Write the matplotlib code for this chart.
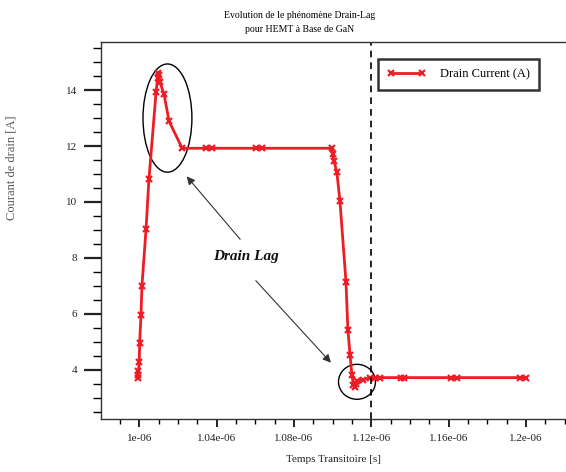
import numpy as np
import matplotlib
matplotlib.use('Agg')
import matplotlib.pyplot as plt
from matplotlib.patches import Ellipse
from matplotlib.ticker import MultipleLocator

# transient drain current (time in microseconds, current in A)
t_us = [0.9993, 0.9994, 0.9996, 1.0000, 1.0002, 1.0009, 1.0014, 1.0035, 1.0050,
        1.0087, 1.0095, 1.0098, 1.0102, 1.0106, 1.0128, 1.0154, 1.0222,
        1.0345, 1.0376, 1.0603, 1.0634, 1.0996,
        1.1001, 1.1007, 1.1022, 1.1038, 1.1069, 1.1079, 1.1090, 1.1100,
        1.1108, 1.1114, 1.1120, 1.1128, 1.1157, 1.1193, 1.1220, 1.1245,
        1.1353, 1.1369, 1.1612, 1.1643, 1.1970, 1.2000]
i_drain = [3.70, 3.80, 3.95, 4.29, 4.97, 5.97, 7.01, 9.02, 10.81,
           13.93, 14.45, 14.60, 14.55, 14.30, 13.86, 12.89, 11.92,
           11.92, 11.92, 11.92, 11.92, 11.92,
           11.71, 11.46, 11.06, 10.02, 7.15, 5.43, 4.54, 3.80,
           3.45, 3.40, 3.50, 3.60, 3.64, 3.71, 3.72, 3.72,
           3.72, 3.72, 3.72, 3.72, 3.72, 3.72]

xtick_vals = [1.0e-6, 1.04e-6, 1.08e-6, 1.12e-6, 1.16e-6, 1.2e-6]
xtick_labels = ['1e-06', '1.04e-06', '1.08e-06', '1.12e-06', '1.16e-06', '1.2e-06']
ytick_vals = [4, 6, 8, 10, 12, 14]

t_marker = 1.12e-6

def main():
    plt.rcParams['font.family'] = ['Liberation Serif', 'DejaVu Serif']

    fig = plt.figure(figsize=(5.66, 4.72), dpi=100)
    ax = fig.add_axes([0.1784, 0.1123, 0.8216, 0.7987])

    t = np.array(t_us) * 1e-6
    ax.plot(t, i_drain, color='#ee1c25', lw=2.0, marker='x', ms=5, mew=1.6,
            label='Drain Current (A)')

    ax.axvline(t_marker, color='black', lw=1.2, ls=(0, (4, 3)))

    ax.set_xlim(0.9802e-6, 1.2207e-6)
    ax.set_ylim(2.24, 15.72)

    ax.set_xticks(xtick_vals)
    ax.set_xticklabels(xtick_labels)
    ax.xaxis.set_minor_locator(MultipleLocator(0.01e-6))
    ax.set_yticks(ytick_vals)
    ax.yaxis.set_minor_locator(MultipleLocator(0.5))

    ax.tick_params(axis='both', which='major', direction='out', labelsize=8,
                   colors='#222222')
    ax.tick_params(axis='y', which='major', length=12, width=1.6, pad=5)
    ax.tick_params(axis='y', which='minor', length=6, width=1.0)
    ax.tick_params(axis='x', which='major', length=6, width=1.4, pad=5)
    ax.tick_params(axis='x', which='minor', length=3.5, width=1.0)

    for side in ['left', 'bottom', 'top']:
        ax.spines[side].set_color('#333333')
        ax.spines[side].set_linewidth(1.0)
    ax.spines['right'].set_visible(False)

    # highlighted regions and the annotation pointing at them
    ax.add_patch(Ellipse((1.01458e-6, 13.0), 0.0253e-6, 3.87, fill=False,
                         ec='black', lw=1.0))
    ax.add_patch(Ellipse((1.1126e-6, 3.57), 0.0191e-6, 1.25, fill=False,
                         ec='black', lw=1.0))
    ax.text(1.0553e-6, 8.05, 'Drain Lag', ha='center', va='center',
            fontsize=11, fontweight='bold', style='italic', color='#111111')
    ax.annotate('', xy=(1.0236e-6, 10.99), xytext=(1.0531e-6, 8.59),
                arrowprops=dict(arrowstyle='-|>', color='#333333', lw=0.8,
                                mutation_scale=12))
    ax.annotate('', xy=(1.1001e-6, 4.18), xytext=(1.0593e-6, 7.26),
                arrowprops=dict(arrowstyle='-|>', color='#333333', lw=0.8,
                                mutation_scale=12))

    leg = ax.legend(loc='upper left', bbox_to_anchor=(0.5957, 0.955),
                    borderaxespad=0, numpoints=2, fontsize=9,
                    handlelength=3.1, handletextpad=1.1, fancybox=False,
                    framealpha=1, edgecolor='#333333', borderpad=0.75)
    leg.get_frame().set_linewidth(1.8)

    fig.text(300 / 566, 1 - 15 / 472, 'Evolution de le phénomène Drain-Lag',
             ha='center', va='center', fontsize=7)
    fig.text(300 / 566, 1 - 30 / 472, 'pour HEMT à Base de GaN',
             ha='center', va='center', fontsize=7)
    fig.text(334 / 566, 1 - 460 / 472, 'Temps Transitoire [s]',
             ha='center', va='center', fontsize=8, color='#222222')
    fig.text(12 / 566, 1 - 168 / 472, 'Courant de drain [A]', rotation=90,
             ha='center', va='center', fontsize=9, color='#555555')

    fig.savefig('out.png', dpi=100)


if __name__ == "__main__":
    main()
